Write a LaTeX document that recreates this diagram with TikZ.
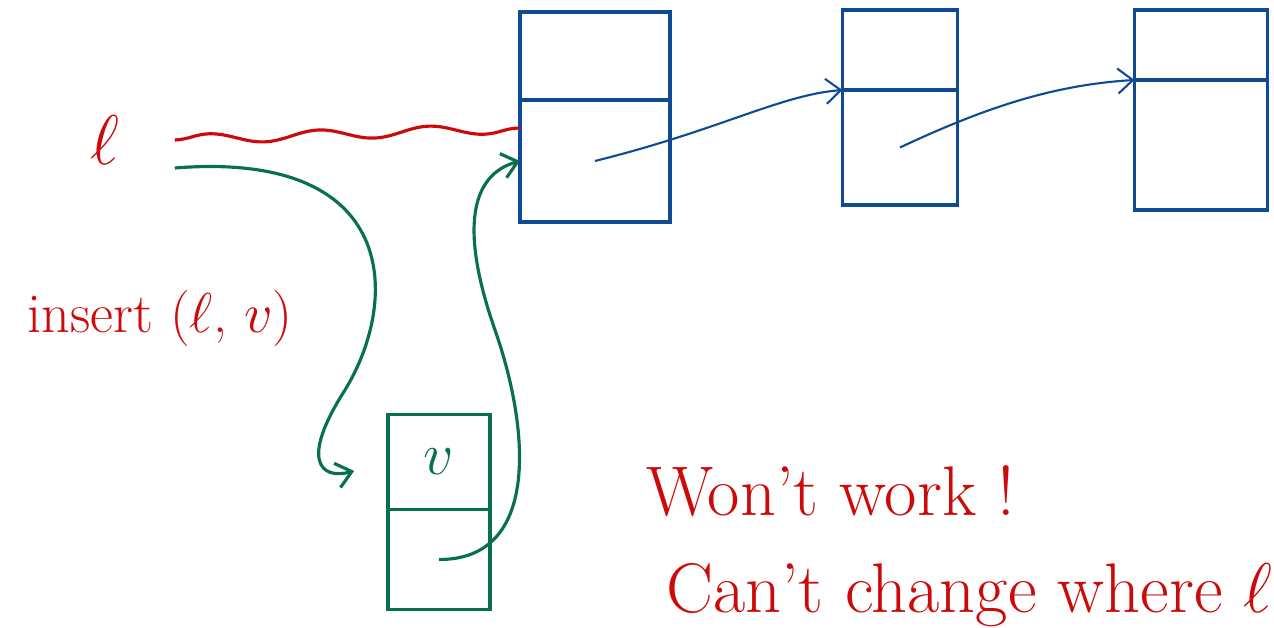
\documentclass[tikz,border=0pt]{standalone}
\usepackage{fix-cm}
\usepackage{tikz}
\usetikzlibrary{arrows.meta, positioning, decorations.pathmorphing}
\tikzset{>={Straight Barb[length=3mm, width=5mm]}}
\definecolor{myblue}{HTML}{0F4A94}
\definecolor{mygreen}{HTML}{07704F}
\definecolor{myred}{HTML}{CC0A0A}

\tikzset{
  field/.style={draw, line width=2.2pt, inner sep=0pt, outer sep=0pt},
  blue field/.style={field, myblue},
  green field/.style={field, mygreen, line width=1.9pt},
  note/.style={myred, font=\fontsize{40}{40}\selectfont},
}

\begin{document}
\begin{tikzpicture}[x=0.02cm, y=-0.02cm]
  \useasboundingbox (0,0) rectangle (1274,628);

  % the list: value field on top, next pointer below
  \node[blue field, minimum width=3cm, minimum height=1.76cm] (c1v) at (595,56) {};
  \node[blue field, minimum width=3cm, minimum height=2.44cm, below=0pt of c1v] (c1n) {};
  \node[blue field, minimum width=2.3cm, minimum height=1.6cm] (c2v) at (900,50) {};
  \node[blue field, minimum width=2.3cm, minimum height=2.3cm, below=0pt of c2v] (c2n) {};
  \node[blue field, minimum width=2.66cm, minimum height=1.4cm] (c3v) at (1201,45) {};
  \node[blue field, minimum width=2.66cm, minimum height=2.6cm, below=0pt of c3v] (c3n) {};

  \draw [->, myblue, line width=1.2pt] (c1n.center) .. controls (720,130) and (780,95) .. (c2v.south west);
  \draw [->, myblue, line width=1.2pt] (c2n.center) .. controls (980,110) and (1050,85) .. (c3v.south west);

  % the new cell
  \node[green field, minimum width=2.04cm, minimum height=1.9cm, font=\fontsize{34}{34}\selectfont] (vv) at (439,462) {$v$};
  \node[green field, minimum width=2.04cm, minimum height=2cm, below=0pt of vv] (vn) {};

  % head pointer
  \node[myred, inner sep=0pt, font=\fontsize{40}{40}\selectfont] (l) at (105,140) {$\ell$};
  \draw [myred, line width=1.8pt, decorate, decoration={snake, amplitude=0.1cm, segment length=2.2cm}]
    ([xshift=1.1cm]l.east) -- ([yshift=-0.56cm]c1n.north west);

  \draw [->, mygreen, line width=1.8pt, shorten >=0.7cm]
    ([xshift=1.1cm, yshift=-0.56cm]l.east) .. controls (400,150) and (400,300) .. (345,390)
    .. controls (300,460) and (320,480) .. (vv.west);
  \draw [->, mygreen, line width=1.8pt]
    (vn.center) .. controls (540,560) and (530,430) .. (495,330)
    .. controls (460,230) and (470,175) .. (c1n.west);

  \node[myred, font=\fontsize{32}{32}\selectfont] (call) at (160,318) {insert ($\ell$, $v$)};
  \node[note, anchor=base west] (wont) at (640,515) {Won't work !};
  \node[note, anchor=base west] (cant) at (660,612) {Can't change where $\ell$};
\end{tikzpicture}
\end{document}
